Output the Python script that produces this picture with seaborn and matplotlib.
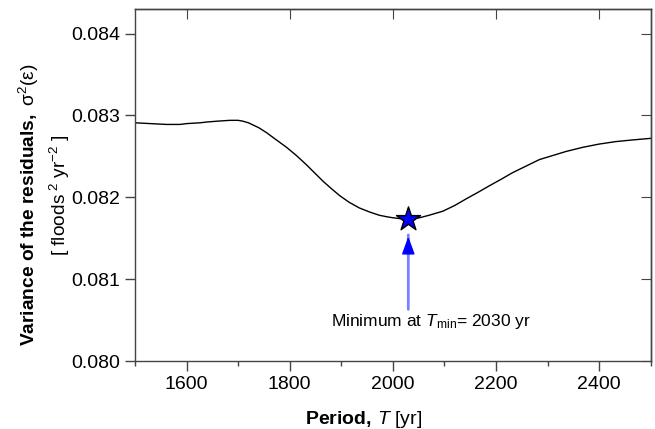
import matplotlib
matplotlib.use("Agg")
import matplotlib.pyplot as plt
import seaborn as sns
import pandas as pd

# ---- data ----
period = [1500, 1530, 1561, 1587, 1600, 1626, 1640, 1660, 1684, 1700, 1709, 1720,
          1740, 1755, 1770, 1794, 1813, 1832, 1848, 1864, 1880, 1897, 1915, 1935,
          1955, 1974, 1990, 2000, 2013, 2030, 2052, 2070, 2097, 2120, 2142, 2165,
          2187, 2210, 2232, 2258, 2284, 2310, 2336, 2368, 2400, 2432, 2464, 2500]
variance = [0.08291, 0.08290, 0.08289, 0.08289, 0.08290, 0.08291, 0.08292, 0.08293,
            0.08294, 0.08294, 0.08293, 0.08291, 0.08285, 0.08279, 0.08272, 0.08261,
            0.08251, 0.08240, 0.08230, 0.08220, 0.08211, 0.08202, 0.08194, 0.08187,
            0.08182, 0.08178, 0.08176, 0.08175, 0.08174, 0.08173, 0.08175, 0.08178,
            0.08183, 0.08190, 0.08198, 0.08206, 0.08214, 0.08222, 0.08230, 0.08238,
            0.08246, 0.08251, 0.08256, 0.08261, 0.08265, 0.08268, 0.08270, 0.08272]
t_min = [2030]
var_min = [0.08173]
arrow_tip = 0.08152
arrow_tail = 0.08063
label_x = 1881
x_ticks = [1600, 1800, 2000, 2200, 2400]
y_ticks = [0.080, 0.081, 0.082, 0.083, 0.084]

df = pd.DataFrame({"period": period, "variance": variance})
dmin = pd.DataFrame({"period": t_min, "variance": var_min})

sns.set_style("ticks")
plt.rcParams["font.family"] = ["Liberation Sans", "DejaVu Sans"]
plt.rcParams["mathtext.fontset"] = "custom"
plt.rcParams["mathtext.rm"] = "Liberation Sans"
plt.rcParams["mathtext.it"] = "Liberation Sans:italic"
plt.rcParams["mathtext.bf"] = "Liberation Sans:bold"
plt.rcParams["text.color"] = "black"
plt.rcParams["axes.labelcolor"] = "black"

fig = plt.figure(figsize=(6.55, 4.29), dpi=100)
ax = fig.add_axes([0.2061, 0.1585, 0.7873, 0.8205])

sns.lineplot(data=df, x="period", y="variance", ax=ax, color="black", lw=1.0)
sns.scatterplot(data=dmin, x="period", y="variance", ax=ax, marker="*", s=330,
                color="#0000ff", edgecolor="black", linewidth=1.0, zorder=5)

# arrow: lighter shaft, solid head
ax.annotate("", xy=(t_min[0], arrow_tip + 0.00002), xytext=(t_min[0], arrow_tail),
            arrowprops=dict(arrowstyle="-", color="#0000ff", lw=2.0, alpha=0.5,
                            shrinkA=0, shrinkB=0))
ax.annotate("", xy=(t_min[0], arrow_tip), xytext=(t_min[0], arrow_tip - 0.0002),
            arrowprops=dict(arrowstyle="-|>,head_length=0.55,head_width=0.2",
                            color="#0000ff", lw=1.0, mutation_scale=20,
                            shrinkA=0, shrinkB=0))
ax.text(label_x, arrow_tail - 0.00003, r"Minimum at $\mathit{T}_{\mathrm{min}}$= 2030 yr",
        ha="left", va="top", fontsize=12.5, color="black")

ax.set_xlim(1500, 2500)
ax.set_ylim(0.080, 0.0843)
ax.set_xticks(x_ticks)
ax.set_xticks(range(1500, 2501, 100), minor=True)
ax.set_yticks(y_ticks)
ax.set_yticklabels([f"{v:.3f}" for v in y_ticks])
ax.tick_params(axis="both", which="major", direction="out", length=7, width=1,
               labelsize=14, color="#444444", labelcolor="black")
ax.tick_params(axis="x", which="minor", direction="out", length=3.5, width=1, color="#444444")
ax.tick_params(axis="y", which="minor", left=False)

secx = ax.secondary_xaxis("top")
secx.set_xticks(x_ticks)
secx.tick_params(direction="in", length=7, labeltop=False, color="#444444")
secy = ax.secondary_yaxis("right")
secy.set_yticks(y_ticks)
secy.tick_params(direction="in", length=7, labelright=False, color="#444444")
for s in list(ax.spines.values()) + [secx.spines["top"], secy.spines["right"]]:
    s.set_color("#444444")
    s.set_linewidth(1.0)

ax.set_xlabel(r"$\mathbf{Period,}\,\mathit{T}$ [yr]", fontsize=14, color="black")
ax.xaxis.set_label_coords(0.444, -0.135)
ax.set_ylabel("")
fig.text(29 / 655, 1 - 205 / 429,
         r"$\mathbf{Variance\ of\ the\ residuals,}$ σ$^{2}$(ε)",
         rotation=90, ha="center", va="center", fontsize=13.8, color="black")
fig.text(60 / 655, 1 - 195 / 429,
         r"[ floods$^{\ 2}$ yr$^{-2}$ ]",
         rotation=90, ha="center", va="center", fontsize=13.8, color="black")

fig.savefig("out.png", dpi=100)
